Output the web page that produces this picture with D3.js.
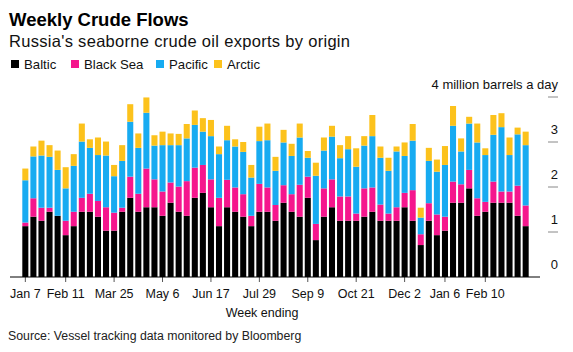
<!DOCTYPE html>
<html>
<head>
<meta charset="utf-8">
<script src="https://cdn.jsdelivr.net/npm/d3@7"></script>
<style>
  body { margin: 0; background: #fff; }
  svg { font-family: "Liberation Sans", Arial, sans-serif; }
</style>
</head>
<body>
<div id="chart"></div>
<script>
// week ending dates, Jan 7 2018 .. Mar 17 2019
const weeks = d3.timeWeek.range(new Date(2018, 0, 7), new Date(2019, 2, 18));

// million barrels a day
const baltic = [1.13,1.34,1.25,1.45,1.36,0.93,1.13,1.45,1.45,1.34,
  1.03,1.03,1.45,1.76,1.45,1.55,1.55,1.36,1.65,1.45,
  1.36,1.76,1.87,1.55,1.13,1.55,1.45,1.34,1.13,1.45,
  1.45,1.25,1.65,1.45,1.34,1.76,0.82,1.34,1.55,1.25,
  1.25,1.25,1.34,1.45,1.25,1.25,1.25,1.55,1.25,0.71,
  1.25,0.93,1.03,1.65,1.65,1.97,1.36,1.45,1.65,1.65,
  1.65,1.36,1.13];
const blackSea = [0.08,0.41,0.29,0.09,0,0.32,0.32,0.31,0.40,0.35,
  0.52,0.40,0.09,0.47,0.40,0.86,0.62,0.54,0.45,0.56,
  0.77,0.67,0.62,0.62,0.63,0.61,0.54,0.50,0.23,0.62,
  0.54,0.35,0.39,0.39,0.71,0.47,0.36,0.63,0.62,0.54,
  0.54,0.16,0.63,0.54,0.36,0.16,0.30,0.32,0.68,0.24,
  0.39,0.46,0.31,0.47,0.41,0.41,0.39,0.22,0.47,0.25,
  0.25,0.67,0.46];
const pacific = [0.94,0.93,1.16,1.13,1.02,0.72,1.02,1.25,1.02,1.02,
  1.15,0.81,1.04,1.22,1.02,1.24,0.75,1.03,0.83,0.92,
  0.95,0.95,0.74,0.96,0.97,0.88,0.91,0.94,0.85,0.95,
  1.05,0.76,0.95,0.85,1.05,0.42,1.07,0.84,0.95,0.85,
  1.05,1.04,0.95,1.14,1.04,0.95,1.24,0.82,1.10,0.37,
  0.94,0.95,1.15,1.24,0.73,1.03,1.24,1.04,1.04,1.43,
  0.81,1.14,1.34];
const arctic = [0.26,0.22,0.33,0.26,0.43,0.47,0.26,0.40,0.19,0.39,
  0.31,0.25,0.35,0.39,0.32,0.34,0.23,0.30,0.26,0.25,
  0.32,0.32,0.30,0.36,0.17,0.32,0.16,0.22,0.28,0.32,
  0.37,0.31,0.28,0.27,0.31,0.15,0.29,0.29,0.24,0.29,
  0.29,0.41,0.21,0.47,0.25,0.29,0.11,0.30,0.37,0.22,
  0.29,0.27,0.42,0.44,0.29,0.15,0.42,0.15,0.44,0.31,
  0.39,0.15,0.30];

const seriesNames = ["Baltic", "Black Sea", "Pacific", "Arctic"];
const seriesColors = ["#000000", "#f5168d", "#17abf1", "#fcc21c"];

const tickIdx = [0, 5, 11, 17, 23, 29, 35, 41, 47, 52, 57];
const tickLabels = ["Jan 7", "Feb 11", "Mar 25", "May 6", "Jun 17", "Jul 29",
  "Sep 9", "Oct 21", "Dec 2", "Jan 6", "Feb 10"];
const yTicks = [0, 1, 2, 3, 4];

const width = 573;
const height = 352;

const rows = weeks.map((w, i) => ({
  week: w,
  "Baltic": baltic[i],
  "Black Sea": blackSea[i],
  "Pacific": pacific[i],
  "Arctic": arctic[i]
}));

const svg = d3.select("#chart").append("svg")
  .attr("width", width)
  .attr("height", height);

// header
svg.append("text").attr("x", 9).attr("y", 26)
  .attr("font-size", 18.5).attr("font-weight", "bold").attr("fill", "#000")
  .text("Weekly Crude Flows");
svg.append("text").attr("x", 9).attr("y", 47)
  .attr("font-size", 16.5).attr("letter-spacing", 0.3).attr("fill", "#111")
  .text("Russia's seaborne crude oil exports by origin");

// legend
const legendX = [11, 71, 156, 214];
const legend = svg.append("g").selectAll("g")
  .data(seriesNames)
  .enter().append("g")
  .attr("transform", (d, i) => `translate(${legendX[i]},60)`);
legend.append("rect").attr("width", 8).attr("height", 8)
  .attr("fill", (d, i) => seriesColors[i]);
legend.append("text").attr("x", 13).attr("y", 8.5)
  .attr("font-size", 13.2).attr("fill", "#111")
  .text(d => d);

const x = d3.scaleBand()
  .domain(weeks.map(d => +d))
  .range([21.3, 529.7])
  .paddingInner(0.25)
  .paddingOuter(0.125);

const y = d3.scaleLinear().domain([0, 4]).range([277, 97]);

const stack = d3.stack().keys(seriesNames);
const layers = stack(rows);

svg.append("g").selectAll("g")
  .data(layers)
  .enter().append("g")
  .attr("fill", (d, i) => seriesColors[i])
  .selectAll("rect")
  .data(d => d)
  .enter().append("rect")
  .attr("x", d => x(+d.data.week))
  .attr("width", x.bandwidth())
  .attr("y", d => y(d[1]))
  .attr("height", d => Math.max(0, y(d[0]) - y(d[1])));

// y axis on the right, labels above the tick lines
const yAxis = svg.append("g");
yAxis.selectAll("line")
  .data(yTicks.filter(d => d > 0))
  .enter().append("line")
  .attr("x1", 548).attr("x2", 558)
  .attr("y1", d => y(d)).attr("y2", d => y(d))
  .attr("stroke", "#888").attr("stroke-width", 1);
yAxis.selectAll("text")
  .data(yTicks)
  .enter().append("text")
  .attr("x", 558)
  .attr("y", d => y(d) - 8)
  .attr("text-anchor", "end")
  .attr("font-size", 13).attr("fill", "#111")
  .text(d => d === 4 ? "4 million barrels a day" : d);

// x axis
const xAxis = d3.axisBottom(x)
  .tickValues(tickIdx.map(i => +weeks[i]))
  .tickFormat((d, i) => tickLabels[i])
  .tickSize(5)
  .tickSizeOuter(0);

const gx = svg.append("g")
  .attr("transform", "translate(0,277)")
  .call(xAxis);
gx.select(".domain").remove();
gx.append("line")
  .attr("x1", 10).attr("x2", 540)
  .attr("stroke", "#000").attr("stroke-width", 1);
gx.selectAll(".tick line").attr("stroke", "#555");
gx.selectAll(".tick text")
  .attr("y", 12)
  .attr("font-family", "Liberation Sans, Arial, sans-serif")
  .attr("font-size", 12.5).attr("fill", "#111");

svg.append("text").attr("x", 262).attr("y", 317)
  .attr("text-anchor", "middle")
  .attr("font-size", 12.5).attr("fill", "#111")
  .text("Week ending");

svg.append("text").attr("x", 8).attr("y", 340)
  .attr("font-size", 12.3).attr("fill", "#222")
  .text("Source: Vessel tracking data monitored by Bloomberg");
</script>
</body>
</html>
